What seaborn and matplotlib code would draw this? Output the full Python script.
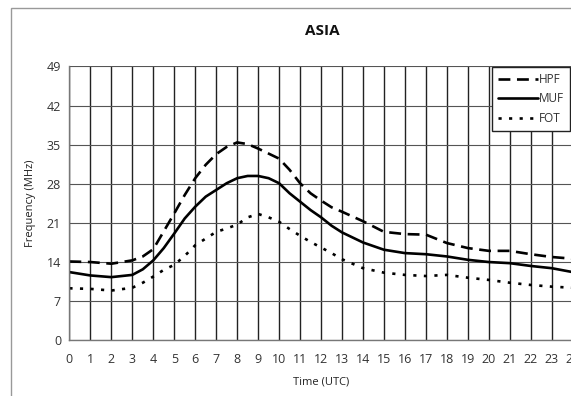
import matplotlib
matplotlib.use("Agg")
import matplotlib.pyplot as plt
from matplotlib.lines import Line2D
from matplotlib.patches import Rectangle
import seaborn as sns
import pandas as pd

# readings taken off the chart (UTC hours, half hours where the curves bend)
times = [0, 1, 2, 3, 3.5, 4, 4.5, 5, 5.5, 6, 6.5, 7, 7.5, 8, 8.5, 9, 9.5, 10, 10.5,
         11, 11.5, 12, 12.5, 13, 14, 15, 16, 17, 18, 19, 20, 21, 22, 23, 24]
hpf = [14.1, 14.0, 13.7, 14.3, 15.0, 16.3, 19.5, 22.7, 26.0, 29.0, 31.4, 33.3, 34.6, 35.4, 35.1,
       34.3, 33.4, 32.5, 30.5, 28.1, 26.3, 25.0, 23.8, 23.0, 21.3, 19.4, 19.0, 18.9, 17.4, 16.5,
       16.0, 16.0, 15.4, 14.9, 14.6]
muf = [12.2, 11.6, 11.3, 11.7, 12.7, 14.3, 16.5, 19.1, 21.8, 23.9, 25.7, 26.9, 28.1, 29.0, 29.4,
       29.4, 29.0, 28.1, 26.3, 24.8, 23.3, 22.0, 20.5, 19.3, 17.5, 16.2, 15.6, 15.4, 15.0, 14.4,
       14.0, 13.8, 13.3, 12.9, 12.2]
fot = [9.3, 9.2, 8.9, 9.4, 10.3, 11.4, 12.6, 13.5, 15.1, 17.0, 18.2, 19.4, 20.0, 20.7, 22.0,
       22.6, 22.0, 21.2, 19.9, 18.7, 17.6, 16.6, 15.6, 14.5, 12.9, 12.1, 11.7, 11.5, 11.7, 11.2,
       10.8, 10.3, 9.9, 9.6, 9.4]
series = ["HPF", "MUF", "FOT"]
x_ticks = list(range(25))
y_ticks = [0, 7, 14, 21, 28, 35, 42, 49]

n = len(times)
df = pd.DataFrame({"Time": times * 3,
                   "Freq": hpf + muf + fot,
                   "Series": ["HPF"] * n + ["MUF"] * n + ["FOT"] * n})

sns.set_style("white")
plt.rcParams['font.family'] = ['Open Sans', 'DejaVu Sans']

fig = plt.figure(figsize=(5.71, 3.96), dpi=100)
ax = fig.add_axes([69.4 / 571, 1 - 340.3 / 396, (572.7 - 69.4) / 571, (340.3 - 66.4) / 396])

# outer chart frame
fig.patches.append(Rectangle((11 / 571, -0.1), 1.1, 1 - 8 / 396 + 0.1, transform=fig.transFigure,
                             fill=False, edgecolor='#999999', linewidth=1.0))

dash_map = {"HPF": (4.5, 2.5), "MUF": "", "FOT": (1.2, 2.8)}
sns.lineplot(data=df, x="Time", y="Freq", style="Series", ax=ax, dashes=dash_map,
             color="black", linewidth=1.9, legend=False)

ax.set_xlim(0, 24)
ax.set_ylim(0, 49)
ax.set_xticks(x_ticks)
ax.set_yticks(y_ticks)
ax.set_yticks(range(50), minor=True)
ax.grid(True, axis='x', color='#222222', linewidth=1.0)
ax.grid(True, axis='y', color='#555555', linewidth=0.8)
ax.set_axisbelow(True)
for s in ['top', 'right']:
    ax.spines[s].set_visible(False)
for s in ['left', 'bottom']:
    ax.spines[s].set_color('#777777')
    ax.spines[s].set_linewidth(1.0)
ax.tick_params(axis='both', which='major', direction='out', length=3, color='#777777',
               labelsize=9, labelcolor='#333333', pad=3)
ax.tick_params(axis='y', which='minor', direction='in', length=2, color='#999999')
ax.tick_params(axis='x', pad=6)

ax.set_xlabel("Time (UTC)", fontsize=8, color='#222222', labelpad=8)
ax.set_ylabel("Frequency (MHz)", fontsize=8, color='#222222', labelpad=8)
fig.text(322 / 571, 1 - 31 / 396, "ASIA", ha='center', va='center', fontsize=11,
         fontweight='bold', color='#111111')

handles = [Line2D([], [], color='black', lw=1.9, dashes=dash_map["HPF"]),
           Line2D([], [], color='black', lw=1.9),
           Line2D([], [], color='black', lw=1.9, dashes=dash_map["FOT"])]
leg = ax.legend(handles, series, loc='upper right',
                bbox_to_anchor=(570 / 571, 1 - 67 / 396), bbox_transform=fig.transFigure,
                borderaxespad=0, fancybox=False, framealpha=1, edgecolor='#222222',
                fontsize=8.5, handlelength=3.4, handletextpad=0.1, labelspacing=0.55,
                borderpad=0.5)
leg.get_frame().set_linewidth(1.0)
for t in leg.get_texts():
    t.set_color('#333333')

fig.savefig("out.png", dpi=100)
